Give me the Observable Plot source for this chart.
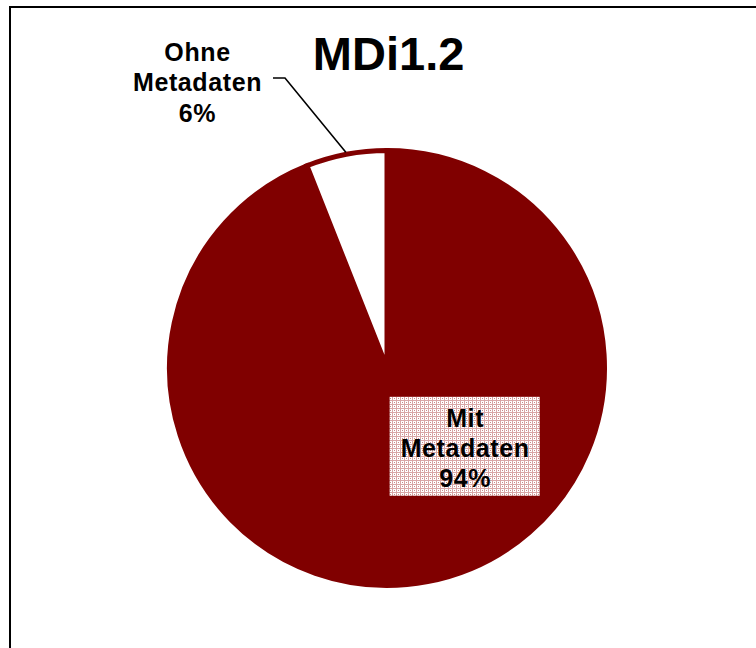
<!DOCTYPE html>
<html>
<head>
<meta charset="utf-8">
<script src="https://cdn.jsdelivr.net/npm/d3@7"></script>
<script src="https://cdn.jsdelivr.net/npm/@observablehq/plot@0.6"></script>
<style>
  html, body { margin: 0; padding: 0; background: #fff; }
  svg { display: block; font-family: "Liberation Sans", Arial, sans-serif; }
  .lbl text { letter-spacing: 0.6px; }
</style>
</head>
<body>
<div id="chart"></div>
<script>
// ---- data ----
const title = "MDi1.2";
const categories = ["Mit Metadaten", "Ohne Metadaten"];
const values = [94, 6];
const colors = ["#800000", "#ffffff"];
// label positions in unit-radius coordinates (x right, y up)
const labelX = [0.357, -0.8736];
const labelY = [-0.362, 1.3195];

const W = 756, H = 648;
const cx = 387, cy = 368, R = 217.5;

const slices = categories.map((c, i) => ({
  category: c, value: values[i], color: colors[i],
  lx: labelX[i], ly: labelY[i],
  label: [...c.split(" "), values[i] + "%"].join("\n")
}));

const pie = d3.pie().value(d => d.value).sort(null).startAngle(0).endAngle(2 * Math.PI);
const arcs = pie(slices);

function pieMark(index, scales, values, dims, context) {
  const g = d3.create("svg:g");
  const x0 = scales.x(0), y0 = scales.y(0);
  const r = scales.x(1) - scales.x(0);
  const arc = d3.arc().innerRadius(0).outerRadius(r);
  g.selectAll("path").data(arcs).join("path")
    .attr("transform", `translate(${x0},${y0})`)
    .attr("d", arc)
    .attr("fill", d => d.data.color)
    .attr("stroke", "#800000")
    .attr("stroke-width", 5)
    .attr("stroke-linejoin", "miter");
  return g.node();
}

function boxMark(index, scales, values, dims, context) {
  const g = d3.create("svg:g");
  const defs = g.append("defs");
  const p = defs.append("pattern").attr("id", "dots").attr("patternUnits", "userSpaceOnUse")
    .attr("width", 4).attr("height", 4);
  p.append("rect").attr("width", 4).attr("height", 4).attr("fill", "#ffffff");
  p.append("rect").attr("x", 0).attr("y", 0).attr("width", 4).attr("height", 1).attr("fill", "#d9a6a6");
  p.append("rect").attr("x", 0).attr("y", 0).attr("width", 1).attr("height", 4).attr("fill", "#d9a6a6");
  p.append("rect").attr("x", 2).attr("y", 2).attr("width", 1).attr("height", 1).attr("fill", "#c88888");
  const d = slices[0];
  const xc = scales.x(d.lx), yc = scales.y(d.ly);
  g.append("rect")
    .attr("x", xc - 75).attr("y", yc - 50).attr("width", 150).attr("height", 99)
    .attr("fill", "url(#dots)");
  return g.node();
}

function leaderMark(index, scales) {
  const g = d3.create("svg:g");
  const a = arcs[1];
  const mid = (a.startAngle + a.endAngle) / 2;
  const px = scales.x(Math.sin(mid) * 1.01), py = scales.y(Math.cos(mid) * 1.01);
  const d = slices[1];
  const lx = scales.x(d.lx), ly = scales.y(d.ly);
  g.append("path")
    .attr("d", `M${lx + 76},${ly - 3} H${lx + 88} L${px},${py}`)
    .attr("fill", "none").attr("stroke", "#000").attr("stroke-width", 1.6);
  return g.node();
}

const chart = Plot.plot({
  width: W, height: H,
  margin: 0,
  x: {type: "linear", domain: [-1, 1], range: [cx - R, cx + R], axis: null},
  y: {type: "linear", domain: [-1, 1], range: [cy + R, cy - R], axis: null},
  style: {background: "#fff", overflow: "hidden"},
  marks: [
    pieMark,
    boxMark,
    leaderMark,
    Plot.text(slices, {
      x: "lx", y: "ly", text: "label",
      lineHeight: 1.22,
      fontSize: 25, fontWeight: "bold", fill: "#000",
      fontFamily: "Liberation Sans, Arial, sans-serif",
      className: "lbl"
    }),
    Plot.text([title], {
      x: 0.005, y: 1.44, text: d => d,
      fontSize: 47, fontWeight: "bold", fill: "#000",
      fontFamily: "Liberation Sans, Arial, sans-serif"
    }),
    Plot.frame({stroke: "#000", strokeWidth: 2, insetLeft: 9.5, insetTop: 6.5, insetRight: -10, insetBottom: -10})
  ]
});
document.getElementById("chart").append(chart);
</script>
</body>
</html>
